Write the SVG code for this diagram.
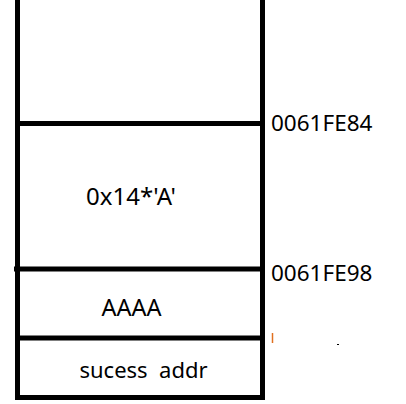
<svg xmlns="http://www.w3.org/2000/svg" width="406" height="404" viewBox="0 0 406 404">
<style>
.ln{stroke:#000;stroke-width:5;fill:none}
.t{font-family:"Noto Sans","Open Sans",sans-serif;font-size:22px;fill:#000}
</style>
<rect width="406" height="404" fill="#fff"/>
<g id="connectors">
<line class="ln" x1="17.5" y1="0" x2="17.5" y2="400"/>
<line class="ln" x1="262.5" y1="0" x2="262.5" y2="400"/>
<line class="ln" x1="17.5" y1="123.5" x2="265" y2="123.5"/>
<line class="ln" x1="14" y1="269" x2="265" y2="269"/>
<line class="ln" x1="17.5" y1="338" x2="265" y2="338"/>
<line class="ln" x1="15" y1="397.5" x2="265" y2="397.5"/>
</g>
<g id="slot-top"></g>
<g id="slot-buffer"><text class="t" x="131" y="205" text-anchor="middle" style="font-size:24px">0x14*'A'</text></g>
<g id="slot-aaaa"><text class="t" x="131.5" y="316" text-anchor="middle" style="font-size:23.5px">AAAA</text></g>
<g id="slot-ret"><text class="t" x="143.5" y="378" text-anchor="middle" style="font-size:22px">sucess&#160; addr</text></g>
<g id="addr-84"><text class="t" x="271" y="131" style="font-size:22.5px">0061FE84</text></g>
<g id="addr-98"><text class="t" x="271" y="281" style="font-size:22.5px">0061FE98</text></g>
<g id="marks">
<line x1="272.5" y1="333" x2="272.5" y2="343" stroke="#e07020" stroke-width="1.5"/>
<rect x="337" y="344" width="2" height="1" fill="#000"/>
</g>
</svg>
